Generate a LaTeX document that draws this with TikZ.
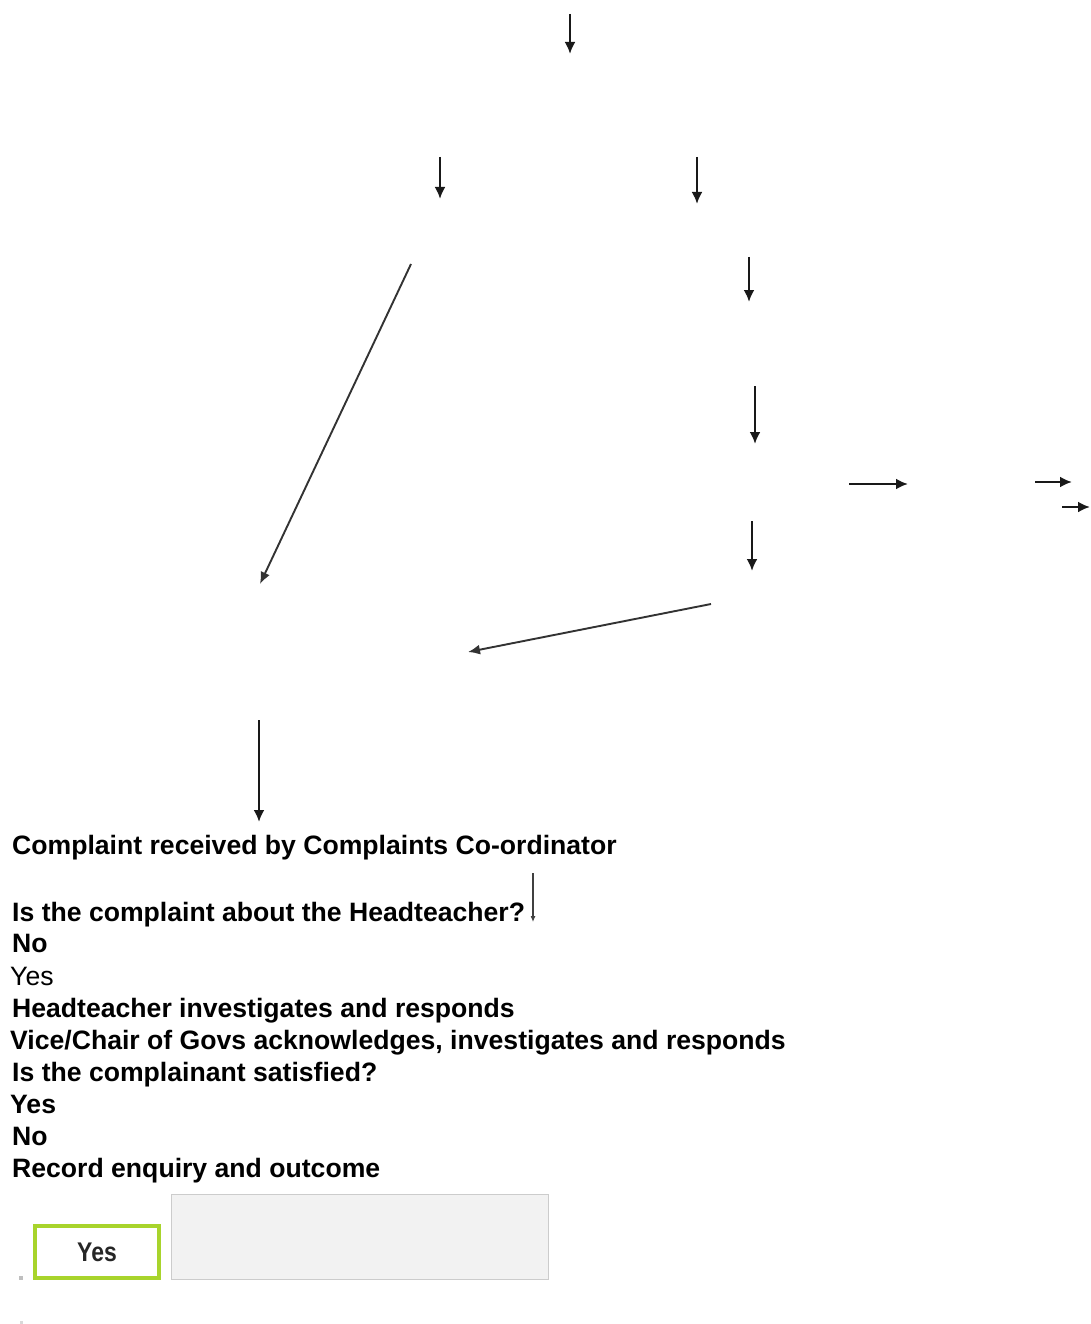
\documentclass[tikz,border=0pt]{standalone}
\usepackage{fontspec}
\setmainfont{Liberation Sans}
\usetikzlibrary{arrows.meta}
\begin{document}
\begin{tikzpicture}[x=1pt,y=-1pt,
  flowarrow/.style={draw=black!90,line width=2.4pt,-{Latex[length=12pt,width=11pt]}},
  thinarrow/.style={draw=black!80,line width=1.9pt,-{Latex[length=12pt,width=10pt]}},
  tinyarrow/.style={draw=black!75,line width=1.1pt,-{Latex[length=6pt,width=5pt]}},
  txt/.style={anchor=base west,inner sep=0pt,font=\fontsize{26.6}{30}\selectfont\bfseries},
  txtreg/.style={anchor=base west,inner sep=0pt,font=\fontsize{26.6}{30}\selectfont}]
\useasboundingbox (0,0) rectangle (1090,1324);
% arrow end points
\coordinate (a1s) at (570,14);  \coordinate (a1e) at (570,54);
\coordinate (a2s) at (440,157); \coordinate (a2e) at (440,199);
\coordinate (a3s) at (697,157); \coordinate (a3e) at (697,204);
\coordinate (a4s) at (411,264); \coordinate (a4e) at (260,584);
\coordinate (a5s) at (749,257); \coordinate (a5e) at (749,302);
\coordinate (a6s) at (755,386); \coordinate (a6e) at (755,444);
\coordinate (a7s) at (849,484); \coordinate (a7e) at (908,484);
\coordinate (a8s) at (1035,482); \coordinate (a8e) at (1072,482);
\coordinate (a9s) at (1062,507); \coordinate (a9e) at (1090,507);
\coordinate (a10s) at (752,521); \coordinate (a10e) at (752,571);
\coordinate (a11s) at (711,604); \coordinate (a11e) at (468,652);
\coordinate (a12s) at (259,720); \coordinate (a12e) at (259,822);
\coordinate (a13s) at (533,873); \coordinate (a13e) at (533,922);
\draw[flowarrow] (a1s) -- (a1e);
\draw[flowarrow] (a2s) -- (a2e);
\draw[flowarrow] (a3s) -- (a3e);
\draw[thinarrow] (a4s) -- (a4e);
\draw[flowarrow] (a5s) -- (a5e);
\draw[flowarrow] (a6s) -- (a6e);
\draw[flowarrow] (a7s) -- (a7e);
\draw[flowarrow] (a8s) -- (a8e);
\draw[flowarrow] (a9s) -- (a9e);
\draw[flowarrow] (a10s) -- (a10e);
\draw[thinarrow] (a11s) -- (a11e);
\draw[flowarrow] (a12s) -- (a12e);
\draw[tinyarrow] (a13s) -- (a13e);
% text lines
\node[txt] (t1) at (12,854) {Complaint received by Complaints Co-ordinator};
\node[txt] (t2) at (12,921) {Is the complaint about the Headteacher?};
\node[txt] (t3) at (12,952) {No};
\node[txtreg] (t4) at (10,985) {Yes};
\node[txt] (t5) at (12,1017) {Headteacher investigates and responds};
\node[txt] (t6) at (10,1049) {Vice/Chair of Govs acknowledges, investigates and responds};
\node[txt] (t7) at (12,1081) {Is the complainant satisfied?};
\node[txt] (t8) at (10,1113) {Yes};
\node[txt] (t9) at (12,1145) {No};
\node[txt] (t10) at (12,1177) {Record enquiry and outcome};
% bottom widgets
\definecolor{btngreen}{HTML}{A8D42C}
\node[draw=btngreen,line width=4pt,fill=white,minimum width=124pt,minimum height=52pt,inner sep=0pt,
  text=black!85] (yesbtn) at (97,1252) {\scalebox{0.85}[1]{\fontsize{27}{30}\selectfont\bfseries Yes}};
\node[draw=black!20,line width=1.5pt,fill=black!5,minimum width=377pt,minimum height=85pt,inner sep=0pt] (graybox) at (360,1237) {};
\node[fill=black!25,minimum size=4pt,inner sep=0pt] (dot1) at (21,1278) {};
\node[fill=black!15,minimum size=3pt,inner sep=0pt] (dot2) at (21,1322) {};
\end{tikzpicture}
\end{document}
